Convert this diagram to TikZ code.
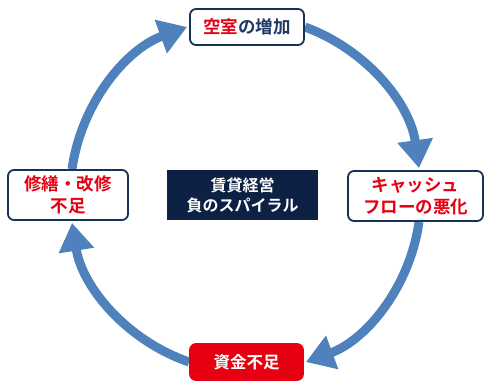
\documentclass[tikz,border=0pt]{standalone}
\usepackage{fontspec}
\newfontfamily\jp{Noto Sans CJK JP}[BoldFont={Noto Sans CJK JP Bold}]
\usetikzlibrary{arrows.meta,backgrounds}
\definecolor{arcblue}{RGB}{79,129,189}
\definecolor{jred}{RGB}{230,0,18}
\definecolor{jnavy}{RGB}{31,56,100}
\definecolor{bnavy}{RGB}{23,50,88}
\definecolor{cnavy}{RGB}{13,33,68}
\begin{document}
\begin{tikzpicture}[x=1pt,y=1pt,
  box/.style={draw=bnavy, line width=1.8pt, rounded corners=6pt, fill=white, inner sep=0pt,
    align=center, text=jred, font=\jp\bfseries\fontsize{17.5}{22}\selectfont},
  redbox/.style={box, draw=jred, fill=jred, text=white, font=\jp\bfseries\fontsize{16.5}{20}\selectfont},
  centerbox/.style={fill=cnavy, inner sep=0pt, align=center, text=white,
    font=\jp\bfseries\fontsize{16}{20}\selectfont},
  cycarrow/.style={draw=arcblue, line width=9pt, -{Triangle[length=28pt,width=34pt]},
    bend left=31, looseness=0.92}]
\useasboundingbox (0,0) rectangle (486,383);
\node[box, minimum width=114pt, minimum height=36pt] (top) at (247,356) {空室\textcolor{jnavy}{の増加}};
\node[box, minimum width=135pt, minimum height=50pt] (right) at (415.5,187) {キャッシュ\\フローの悪化};
\node[box, minimum width=120pt, minimum height=50pt] (left) at (68,188) {修繕・改修\\不足};
\node[redbox, minimum width=113pt, minimum height=36pt] (bottom) at (246.5,21) {資金不足};
\node[centerbox, minimum width=151pt, minimum height=50pt] (center) at (242.5,188) {賃貸経営\\負のスパイラル};
\begin{scope}[on background layer]
  \coordinate (e1) at ([shift={(3.5,2)}]right.north);
  \coordinate (s2) at ([xshift=3.5]right.south);
  \coordinate (e2) at ([xshift=2]bottom.east);
  \coordinate (e3) at ([shift={(4,-2)}]left.south);
  \coordinate (s4) at ([xshift=4]left.north);
  \coordinate (e4) at ([xshift=-2]top.west);
  \draw[cycarrow] (top.east) to (e1);
  \draw[cycarrow] (s2) to (e2);
  \draw[cycarrow] (bottom.west) to (e3);
  \draw[cycarrow] (s4) to (e4);
\end{scope}
\end{tikzpicture}
\end{document}
